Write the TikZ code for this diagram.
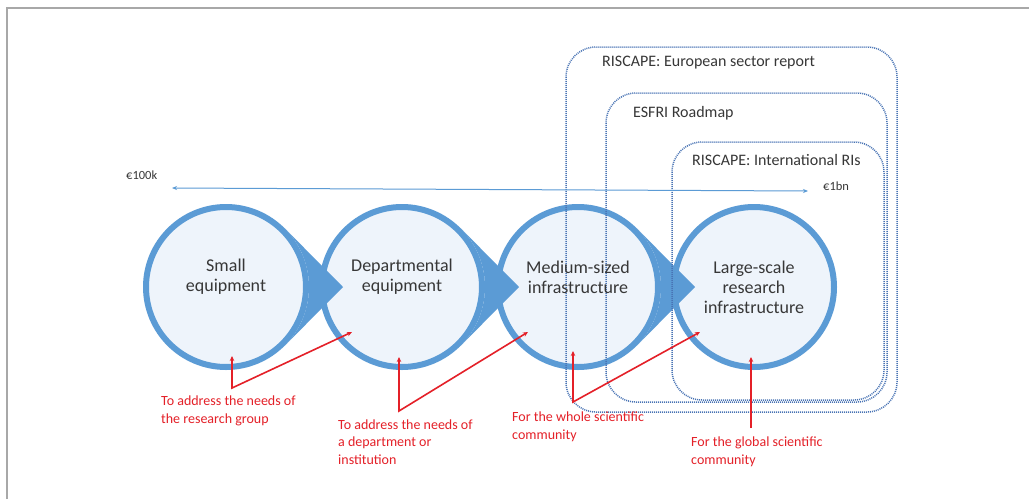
\documentclass[tikz,border=0pt]{standalone}
\usepackage{fontspec}
\setmainfont{Carlito}
\usetikzlibrary{arrows.meta,calc}
\definecolor{cblue}{RGB}{91,155,213}
\definecolor{cfill}{RGB}{238,244,251}
\definecolor{dotblue}{RGB}{72,115,180}
\definecolor{tgray}{RGB}{55,55,55}
\definecolor{ared}{RGB}{228,32,40}
\definecolor{framegray}{RGB}{168,168,168}
\begin{document}
\begin{tikzpicture}[x=1pt,y=-1pt,
  circ/.style={circle, draw=cblue, fill=cfill, line width=6pt, minimum size=160pt, inner sep=0pt},
  wedge/.style={fill=cblue},
  dotbox/.style={draw=dotblue, line width=1.5pt, dash pattern=on 1pt off 1pt, rounded corners=30pt},
  costarrow/.style={draw=cblue, line width=1pt, {Stealth[length=5pt,width=4pt]}-{Stealth[length=5pt,width=4pt]}},
  redarr/.style={draw=ared, line width=1.6pt, {Stealth[length=5pt,width=4.5pt]}-{Stealth[length=5pt,width=4.5pt]}},
  redarrone/.style={draw=ared, line width=1.6pt, -{Stealth[length=5pt,width=4.5pt]}},
  ctext/.style={align=center, font=\fontsize{18}{20}\selectfont, text=tgray, inner sep=0pt},
  btext/.style={anchor=west, font=\fontsize{16}{19}\selectfont, text=tgray, inner sep=0pt},
  mtext/.style={anchor=west, font=\fontsize{12.5}{15}\selectfont, text=tgray, inner sep=0pt},
  rtext/.style={anchor=west, align=left, font=\fontsize{14}{17.5}\selectfont, text=ared, inner sep=0pt}
]
\useasboundingbox (0,0) rectangle (1029,499);
\fill[white] (0,0) rectangle (1029,499);
\draw[framegray, line width=1.2pt] (7,499) -- (7,8) -- (1029,8);

% circles
\node[circ] (c1) at (226,287) {};
\node[circ] (c2) at (402,287) {};
\node[circ] (c3) at (578,287) {};
\node[circ] (c4) at (754,287) {};

% wedges
\foreach \i in {1,2,3}{
  \fill[wedge] (c\i.45) -- ($(c\i.center)+(117,0)$) -- (c\i.-45) arc[start angle=-45, end angle=45, radius=83pt] -- cycle;
}

% dotted frames
\draw[dotbox] (566,47) rectangle (897,412);
\draw[dotbox] (606,93) rectangle (887,402);
\draw[dotbox] (672,142) rectangle (884,400);

\node[btext] (b1) at (602,63) {RISCAPE: European sector report};
\node[btext] (b2) at (633,113) {ESFRI Roadmap};
\node[btext] (b3) at (692,160) {RISCAPE: International RIs};

% cost range arrow
\node[mtext] (m1) at (126,175) {€100k};
\node[mtext] (m2) at (823,186) {€1bn};
\coordinate (aL) at (172,188);
\coordinate (aR) at (808,191);
\draw[costarrow] (aL) -- (aR);

% circle texts
\node[ctext] (t1) at (226,277) {Small\\equipment};
\node[ctext] (t2) at (402,277) {Departmental\\equipment};
\node[ctext] (t3) at (578,277) {Medium-sized\\infrastructure};
\node[ctext] (t4) at (754,287) {Large-scale\\research\\infrastructure};

% red annotations
\node[rtext] (r1) at (161,411) {To address the needs of\\the research group};
\node[rtext] (r2) at (338,442) {To address the needs of\\a department or\\institution};
\node[rtext] (r3) at (512,427) {For the whole scientific\\community};
\node[rtext] (r4) at (691,452) {For the global scientific\\community};

\coordinate (v1) at (232,388); \coordinate (p1a) at (232,356); \coordinate (p1b) at (352,332);
\coordinate (v2) at (399,411); \coordinate (p2a) at (399,357); \coordinate (p2b) at (528,332);
\coordinate (v3) at (573,402); \coordinate (p3a) at (573,351); \coordinate (p3b) at (700,332);
\coordinate (v4) at (751,428); \coordinate (p4a) at (751,357);
\draw[redarr] (p1a) -- (v1) -- (p1b);
\draw[redarr] (p2a) -- (v2) -- (p2b);
\draw[redarr] (p3a) -- (v3) -- (p3b);
\draw[redarrone] (v4) -- (p4a);
\end{tikzpicture}
\end{document}
